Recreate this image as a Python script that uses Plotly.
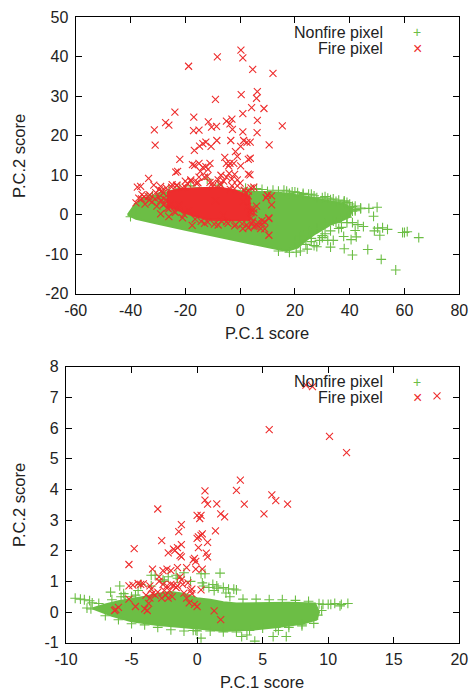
import plotly.graph_objects as go

W, H = 470, 690
GREEN = "#6cbe45"
RED = "#ee2d2d"
INK = "#222222"
FONT = "Liberation Sans"

# ---- Upper panel data ----
top_nonfire_cloud_x = [-41, -38.5, -36, -30, -25, -20, -15, -10, -5, 0, 5, 10, 15, 20, 25, 30, 35, 38, 41, 40, 37, 33, 30, 27, 24, 21, 17, 10, 0, -10, -20, -30, -38, -41]
top_nonfire_cloud_y = [0, 2.5, 3.8, 5, 6, 6.5, 6.8, 6.7, 6.3, 6, 5.8, 5.7, 5.5, 5, 4.5, 3.8, 3, 2.7, 1.5, -0.5, -1.5, -2.5, -3.8, -5, -6.5, -8.3, -9.2, -8.2, -6.8, -5.3, -3.8, -2.3, -1, 0]
top_nonfire_x = [65.2, 61, 60, 59.3, 56.8, 51.5, 51, 53.8, 52, 50.2, 49, 48.7, 50, 47, 44, 42, 41, 40, 46.6, 41, 38, 37.8, 40.5, 42.4, 45, 43, 41, 39, 42, 33, 32, 34, 30, 28, 27, 24.5, 22, 20.5, 18, 14, 36, 31, 29, 26, 24, 35, 37, 38, 39, 40, 42, 44, 33, 30, 27, 23, 19, 16, -40, -38, -37, -36, -28, -18, -8, -12, 2, 8, 12, 17, 21, 26, 31, 34, 36, 38, -34, -32, -29, -26, -22, 4, 6, 10, 14, 18, 20, 23, 25, 28, 32, 35, 38, 41, 20, 22, 25, 28, 31, 34, 37, 39, 42, 26, 30, 33]
top_nonfire_y = [-5.8, -4.3, -4.5, -4.5, -14, -11.3, -5.2, -3.7, -3.3, -3.4, -4.1, -0.4, 1.9, 1.6, 1.5, 1.3, 0.9, 1.8, -8.8, -10.2, -8.6, -5.5, -6.3, -5.6, -3, -2.5, -2, -2, -4, -8.2, -6.5, -6.5, -5.8, -8.1, -7.8, -8.7, -9.2, -9.5, -9.5, -9.2, -3.5, -4.8, -6.5, -6.8, -7.5, -2, -3.2, 3, 3.1, 2.7, 2.2, 1.7, 3.8, 4.3, 4.8, 5.4, 5.8, 6.2, -0.5, 0.5, 2.8, 3.4, 5.6, 7.3, 7.5, 9, 6.7, 6.4, 6.2, 6, 5.6, 5.2, 4.6, 4, 3.7, 3.5, 4.3, 4.8, 5.4, 6.2, 6.7, 6.4, 6.6, 5.9, 6, 5.4, 5.8, 5.1, 5.2, 4.3, 4.2, 3.4, 3.3, 2.1, -6.8, -5.4, -4.2, -3.5, -2.2, -1.6, -0.8, -0.6, 1, -6, -5.3, -4.1]
top_fire_cloud_x = [-26.7, -22, -15, -8, -2, 3.4, 3.6, 3.4, -3, -11, -17, -22, -26.7]
top_fire_cloud_y = [5.7, 6.5, 6.7, 6.9, 6.2, 4.6, 1, -1.3, -1.4, -1.3, -0.3, 1, 2.2]
top_fire_x = [0.3, 1, -8.3, -18.8, 4.6, 12, 6.3, 0.4, 6, -9, 4.2, 8.7, 1, -23.8, -16.9, -27.2, -26, -31.3, -17, -15, -11.6, -10.4, -8.6, -5, -3, -3.7, -2.8, 6.3, 1, 6.2, 15.4, 10.6, -31, -16.7, -14.8, -13.6, -12.5, -10.6, -8.5, -3.4, 1.3, 2.5, 3.7, 0.2, -1.7, -1, -5.6, -22, 3, 3.7, -5, -3.7, -4.2, -2.3, 0.2, -11, -12.5, -13.6, -15, -17.4, -16.6, -11.7, -23.5, -22.8, -14.5, -7, 3, 3.6, -33.4, -31.5, -29, -27, -25, -20, -18, -16, -13, -10, -8, -6, -5, -3, -1, 0, -36, -35, -33, -31, -29.5, -28, -27, -38, -37, -29, -28, -26, -29, -26, -24, -21, -17.5, -13, -8, -5, -2, 1, 3, 5, 6.5, 8, 9, 10.5, 10.5, 11.5, 11.5, 10, 9.5, 10.5, 9, 8, 7.5, 6, 4, 4, 6.5, 5, 3, 4, 5, 1.5, 2, 5, 4, 3, -9, -6, -4, -2, -12, -15, -18, -7, -3, -1, -10, -20, -23, -21, -37.5, -36.3, -34.7, -33.5, -32.2, -30.8, -29.7, -28.6, -27.4, -35.8, -33.2, -30.4, -27.9, -26.6, -25.2, -23.6, -22.2, -20.5, -18.8, -16.4, -14.2, -11.8, -9.4, -6.8, -4.4, -1.6, 0.8, 2.4, 4.3, 5.6, 3.8, 4.6, 2.8, 1.2, -3.6, -7.4, -11, -15.4, -19.2, -23.2, -24.8]
top_fire_y = [41.7, 39.7, 40, 37.6, 36.8, 35.8, 31.2, 30.4, 29.5, 29.2, 27.1, 26.9, 25.6, 26, 24.7, 23.3, 22.7, 21.5, 21.3, 21.4, 23.5, 22.2, 22.4, 23.7, 24.2, 23, 21.6, 23.9, 21, 20.8, 22.5, 17.7, 17.6, 16.3, 17.4, 18, 18.4, 17.3, 18.8, 18.8, 18.8, 18.3, 18.4, 17.3, 16, 14.8, 14.5, 14, 14, 14.3, 13, 13, 12.4, 13, 12.4, 13, 12.2, 12, 13, 12.7, 12.5, 11.5, 10.8, 11, 11, 10, 10.3, 10.1, 9.2, 7.5, 7.2, 6.8, 7, 8.5, 8.8, 8, 9.5, 8, 8.8, 8.5, 9.5, 9, 8.8, 8, 4, 4.5, 5, 4, 6.3, 5.5, 3.8, 3, 4.2, 0.2, 2.5, -0.5, 3.5, 1.5, 0.8, -0.8, -2.7, -2.2, -2.6, -1.8, -2.8, -3.5, -3.3, -3, -2.8, -1.5, -3.6, -1, -5.2, 2.5, 4.8, 5, 4.3, -0.8, -1.8, -2.3, -3.5, 2.2, 1.5, 0.5, -2, 1.4, 4.8, 6.8, 7, 6.2, 5.5, 0.5, -0.8, 6, 3.5, -0.2, 10.5, 10.2, 9.7, 9.5, 8.5, 7.5, 7.3, 7.3, 7.2, 7, 7.5, 6.8, 7, 7.2, 2.7, 4.6, 3.2, 5.6, 4.4, 6.1, 2.9, 5.1, 3.7, 2.2, 4.1, 1.7, 2.6, 0.6, 2.4, 0.1, 1.1, -1.1, -1.7, -1.9, -2.4, -1.6, -2.2, -2.5, -2.3, -2.6, -2.1, -2.9, 0.8, -1.6, 2.1, 3.4, 6.4, 7.8, 8.2, 8.1, 7.9, 7.4, 7.6, 6.9, 4.3]

# ---- Lower panel data ----
low_nonfire_cloud_x = [-8, -7, -6, -5, -4, -3, -2, -1, 0, 1, 2, 3, 5, 7, 9, 9.3, 9.1, 8, 6, 4, 2, 0, -1, -3, -5, -6.5, -8]
low_nonfire_cloud_y = [0.12, 0.25, 0.35, 0.42, 0.5, 0.6, 0.65, 0.6, 0.45, 0.4, 0.32, 0.28, 0.3, 0.3, 0.28, 0, -0.25, -0.38, -0.5, -0.58, -0.62, -0.55, -0.5, -0.42, -0.3, -0.12, 0.12]
low_nonfire_x = [-9.3, -8.9, -8.6, -8.2, -8, -8.4, -8.1, -6.6, -5.9, -5.8, -5.6, -5.5, -5, -4.7, -4.3, -3.5, -3.2, -2.2, 1.75, 0.6, 0.3, 2.4, 2.8, 3, 2, 1.6, 0.9, 4.4, 0.3, -0.3, -0.1, 3.4, 3.8, 5.8, 6.8, 6.2, 8, 8.9, 7, 9.6, 10, 10.2, 10.5, 10.9, 11, 11.5, 9.3, 9.5, 9.2, -7, -6, -5, -4, -3, -2, -1, 0, 1, 2, 3, 4, 5, 6, 7, 8, -7.5, -6.5, -5.5, -4.5, -3.5, -2.5, -1.5, -0.5, 0.5, 1.5, 2.5, 3.5, 4.5, 5.5, 6.5, 7.5, 8.5, 1.2, 0.4, -1.6, -2.6, 1.3, 2.2, -1]
low_nonfire_y = [0.45, 0.42, 0.4, 0.37, 0.3, 0.13, 0.1, 0.65, 0.85, 0.5, 0.6, 0.3, 0.5, 0.55, 0.9, 1.2, 1.2, 1.15, 1.27, 1.25, 1.25, 0.75, 0.75, 0.72, 0.8, 0.78, 0.8, -0.95, -0.85, -0.6, -0.6, -0.8, -0.75, -0.8, -0.8, -0.6, -0.45, -0.37, -0.5, 0.25, 0.25, 0.25, 0.28, 0.2, 0.25, 0.28, 0.27, 0.05, -0.1, -0.12, -0.25, -0.38, -0.42, -0.5, -0.58, -0.62, -0.62, -0.62, -0.65, -0.65, -0.6, -0.52, -0.5, -0.42, -0.4, 0.28, 0.4, 0.5, 0.7, 0.85, 1, 1.1, 1, 0.85, 0.85, 0.5, 0.42, 0.42, 0.4, 0.4, 0.38, 0.35, 0.9, 0.95, 1.2, 1.05, 0.7, 0.62, 1.28]
low_fire_x = [8.3, 8.8, 18.3, 5.5, 10.1, 11.4, 3.3, 0.6, 3, 5.7, 6, 0.6, 0.8, 1.5, 3.6, 6.9, -3, 5.1, 1.8, 2.1, 0, 0.2, 0.3, -1.2, -1.4, 1.4, 0.4, 0.1, 0.3, 0, -2.7, 0.8, -1.2, -4.8, -1.8, -1.5, -1.7, 0.1, -2.2, 0.7, 0.8, -1.3, -1.2, -0.3, -0.2, -0.1, -5.2, -0.8, -1.5, -0.1, 0.4, -3.4, -2.6, -2, -2.3, -1.3, -2.9, -1.2, -5.2, -4.9, -4.5, -4.3, -4.1, -3.6, -3.5, -3.2, -2.9, -2.6, -2.3, -2, -1.8, -1.5, -1.1, -0.7, -0.4, 0.3, -5.2, -4.7, -3.9, -4, -3.8, -3.7, -6.3, -6, -6.2, -3.4, -3, -2.7, -2.2, -1.9, -1, -0.8, -0.4, -0.6, -0.2, 0, 1.3, 1.8, -1.6, -2.5, -0.5, -2.4, -2.1, -3.6]
low_fire_y = [7.4, 7.35, 7.05, 5.95, 5.73, 5.2, 4.3, 3.95, 3.97, 3.82, 3.63, 3.65, 3.52, 3.53, 3.52, 3.52, 3.36, 3.2, 3.2, 3.1, 3.15, 3.05, 3.15, 2.85, 2.62, 2.65, 2.55, 2.45, 2.5, 2.4, 2.33, 2.27, 2.2, 2.07, 2.05, 2.1, 2, 2.1, 1.93, 1.92, 1.8, 1.85, 1.8, 1.7, 1.75, 1.65, 1.55, 1.45, 1.45, 1.4, 1.4, 1.4, 1.35, 1.35, 1.4, 1.15, 1.15, 1.05, 0.85, 0.88, 0.93, 0.9, 0.92, 0.85, 0.75, 0.55, 1, 0.9, 0.85, 0.9, 0.88, 0.85, 0.9, 0.95, 0.75, 0.72, 0.42, 0.18, 0.55, 0.1, 0.05, 0.28, 0.05, 0.15, 0.08, 0.6, 0.65, 0.45, 0.45, 0.5, 0.62, 0.45, 0.6, 0.3, 0.25, 0.18, 0.04, -0.25, 0.8, 0.7, 0.7, 0.55, 0.7, 0.45]

# ---- Axis labels ----
top_xticks = [-60, -40, -20, 0, 20, 40, 60, 80]
top_yticks = [-20, -10, 0, 10, 20, 30, 40, 50]
low_xticks = [-10, -5, 0, 5, 10, 15, 20]
low_yticks = [-1, 0, 1, 2, 3, 4, 5, 6, 7, 8]
x_title = "P.C.1 score"
y_title = "P.C.2 score"
nonfire_name = "Nonfire pixel"
fire_name = "Fire pixel"

fig = go.Figure()


def panel(xa, ya, cx, cy, nx, ny, fx, fy, rx=None, ry=None):
    fig.add_trace(go.Scatter(x=cx, y=cy, xaxis=xa, yaxis=ya, mode="lines", fill="toself",
                             fillcolor=GREEN, line=dict(color=GREEN, width=2), hoverinfo="skip"))
    fig.add_trace(go.Scatter(x=nx, y=ny, xaxis=xa, yaxis=ya, mode="markers", name=nonfire_name,
                             marker=dict(symbol="cross-thin", size=7, line=dict(color=GREEN, width=1.1))))
    if rx:
        fig.add_trace(go.Scatter(x=rx, y=ry, xaxis=xa, yaxis=ya, mode="lines", fill="toself",
                                 fillcolor=RED, line=dict(color=RED, width=2), hoverinfo="skip"))
    fig.add_trace(go.Scatter(x=fx, y=fy, xaxis=xa, yaxis=ya, mode="markers", name=fire_name,
                             marker=dict(symbol="x-thin", size=7, line=dict(color=RED, width=1.1))))


panel("x", "y", top_nonfire_cloud_x, top_nonfire_cloud_y, top_nonfire_x, top_nonfire_y,
      top_fire_x, top_fire_y, top_fire_cloud_x, top_fire_cloud_y)
panel("x2", "y2", low_nonfire_cloud_x, low_nonfire_cloud_y, low_nonfire_x, low_nonfire_y,
      low_fire_x, low_fire_y)


def axis(domain, rng, ticks, anchor, standoff):
    return dict(domain=domain, range=rng, tickmode="array", tickvals=ticks, ticktext=[str(t) for t in ticks],
                ticks="inside", ticklen=6, tickwidth=1, tickcolor="#000", showline=True, linecolor="#000",
                linewidth=1.3, mirror="allticks", showgrid=False, zeroline=False, anchor=anchor, automargin=False,
                ticklabelstandoff=standoff, tickfont=dict(family=FONT, size=16, color=INK))


fig.update_layout(
    width=W, height=H, margin=dict(l=0, r=0, t=0, b=0, autoexpand=False), paper_bgcolor="white", plot_bgcolor="white",
    showlegend=False, font=dict(family=FONT, color=INK),
    xaxis=axis([75.7 / W, 459.3 / W], [-60, 80], top_xticks, "y", 2),
    yaxis=axis([1 - 293.7 / H, 1 - 17.3 / H], [-20, 50], top_yticks, "x", 3),
    xaxis2=axis([66 / W, 459.3 / W], [-10, 20], low_xticks, "y2", 2),
    yaxis2=axis([1 - 642.7 / H, 1 - 366.7 / H], [-1, 8], low_yticks, "x2", 3),
)


def note(px, py, text, xanchor="center", angle=0, color=INK, size=16):
    fig.add_annotation(xref="paper", yref="paper", x=px / W, y=1 - py / H, text=text, showarrow=False,
                       xanchor=xanchor, yanchor="middle", textangle=angle, borderpad=0,
                       font=dict(family=FONT, size=size, color=color))


note(267, 333, x_title, size=16.5)
note(19, 156, y_title, angle=-90, size=16.5)
note(262, 682, x_title, size=16.5)
note(19, 505, y_title, angle=-90, size=16.5)
for ty1, ty2 in [(32, 48.5), (381.5, 397.5)]:
    note(384, ty1, nonfire_name, "right")
    note(384, ty2, fire_name, "right")
    note(417, ty1, "+", color=GREEN, size=14)
    note(417, ty2, "×", color=RED, size=16)

fig.write_html("out.html", config={"displayModeBar": False}, post_script="document.body.style.margin='0';")
